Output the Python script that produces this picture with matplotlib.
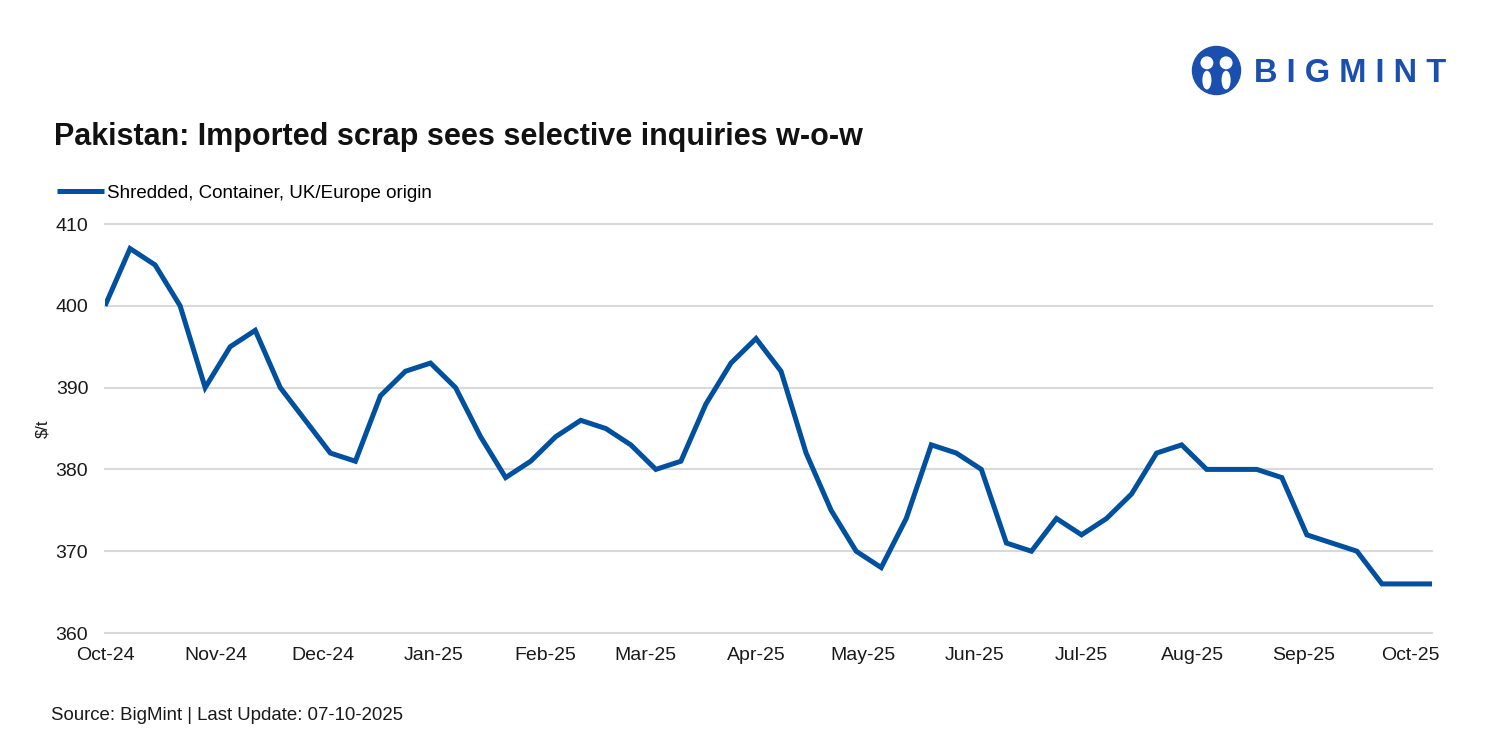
import pandas as pd
import matplotlib.pyplot as plt
import matplotlib.dates as mdates
from matplotlib.patches import Circle, Ellipse

# weekly prices, $/t
start_date = '2024-10-01'
prices = [400, 407, 405, 400, 390, 395, 397, 390, 386, 382,
          381, 389, 392, 393, 390, 384, 379, 381, 384, 386,
          385, 383, 380, 381, 388, 393, 396, 392, 382, 375,
          370, 368, 374, 383, 382, 380, 371, 370, 374, 372,
          374, 377, 382, 383, 380, 380, 380, 379, 372, 371,
          370, 366, 366, 366]
series_name = 'Shredded, Container, UK/Europe origin'
title = 'Pakistan: Imported scrap sees selective inquiries w-o-w'
source = 'Source: BigMint | Last Update: 07-10-2025'
y_ticks = [360, 370, 380, 390, 400, 410]

dates = pd.date_range(start_date, periods=len(prices), freq='7D')
blue = '#0050A0'
logo_blue = '#1a4fb0'

plt.rcParams['font.family'] = ['Liberation Sans', 'DejaVu Sans']

fig = plt.figure(figsize=(15, 7.5), dpi=100)
ax = fig.add_axes([0.07, 0.156, 0.8847, 0.5453])

ax.plot(dates, prices, color=blue, linewidth=3.6, solid_joinstyle='miter',
        solid_capstyle='butt', label=series_name)

ax.set_xlim(dates[0], dates[-1])
ax.set_ylim(360, 410)
ax.set_yticks(y_ticks)
ax.xaxis.set_major_locator(mdates.MonthLocator())
ax.xaxis.set_major_formatter(mdates.DateFormatter('%b-%y'))
ax.tick_params(axis='both', length=0, labelsize=14, colors='#1a1a1a')
ax.tick_params(axis='x', pad=10)
ax.tick_params(axis='y', pad=12)
ax.grid(axis='y', color='#d9d9d9', linewidth=1.5)
for gl in ax.get_ygridlines():
    gl.set_clip_on(False)
ax.set_axisbelow(True)
for s in ax.spines.values():
    s.set_visible(False)
ax.set_ylabel('$/t', fontsize=12, color='#1a1a1a', labelpad=4)

ax.legend(loc='lower left', bbox_to_anchor=(-0.036, 1.055), frameon=False,
          fontsize=13.5, handlelength=2.5, handletextpad=0.15, borderaxespad=0,
          borderpad=0)

fig.text(0.036, 0.818, title, fontsize=22, fontweight='bold', color='#111111',
         va='center', ha='left')
fig.text(0.034, 0.046, source, fontsize=13.4, color='#1a1a1a', va='center', ha='left')

# logo
logo = fig.add_axes([0.795, 0.874, 0.032, 0.064])
logo.set_xlim(0, 1)
logo.set_ylim(0, 1)
logo.set_aspect('equal')
logo.axis('off')
logo.add_patch(Circle((0.5, 0.5), 0.5, color=logo_blue, clip_on=False))
logo.add_patch(Circle((0.30, 0.66), 0.12, color='white', clip_on=False))
logo.add_patch(Circle((0.70, 0.66), 0.12, color='white', clip_on=False))
logo.add_patch(Ellipse((0.30, 0.30), 0.16, 0.36, color='white', clip_on=False))
logo.add_patch(Ellipse((0.70, 0.30), 0.16, 0.36, color='white', clip_on=False))
fig.text(0.836, 0.902, 'B I G M I N T', fontsize=23.5, fontweight='bold',
         color=logo_blue, va='center', ha='left')

fig.savefig('out.png', dpi=100)
